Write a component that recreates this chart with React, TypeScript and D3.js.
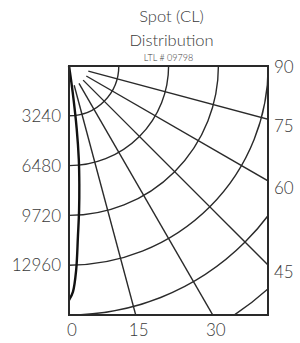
import { scaleLinear, line, curveCatmullRom, arc } from "d3";

// polar candela grid (quarter plane)
const ringValues = [3240, 6480, 9720, 12960, 16200, 19440];
const leftLabels = [3240, 6480, 9720, 12960];
const radialAngles = [15, 30, 45, 60, 75];
const rightLabels = [90, 75, 60, 45];
const bottomLabels = [0, 15, 30];

// candela curve, angle from nadir (deg) vs cd
const curveAngles = [0, 1, 2, 3, 4, 5, 6, 7, 8, 9, 10];
const curveCandela = [15240, 14700, 13300, 11100, 9400, 7700, 6100, 4100, 1700, 300, 0];

const width = 300;
const height = 343;
const margin = { top: 66, left: 69, right: 32, bottom: 28 };
const innerWidth = width - margin.left - margin.right;
const innerHeight = height - margin.top - margin.bottom;
const font = "'Lato Light', 'Lato', sans-serif";

export default function App() {
  const rScale = scaleLinear().domain([0, 16200]).range([0, innerHeight]);
  const rad = (d: number) => (d * Math.PI) / 180;
  const px = (a: number, v: number) => rScale(v) * Math.sin(rad(a));
  const py = (a: number, v: number) => rScale(v) * Math.cos(rad(a));

  const curvePts = curveAngles.map((a, i) => [px(a, curveCandela[i]), py(a, curveCandela[i])] as [number, number]);
  const curvePath = line().curve(curveCatmullRom)(curvePts) || "";

  const ringArc = arc<number>()
    .innerRadius((d) => rScale(d))
    .outerRadius((d) => rScale(d))
    .startAngle(Math.PI / 2)
    .endAngle(Math.PI);

  const stroke = "#2a2a2a";

  return (
    <svg width={width} height={height} style={{ position: "absolute", left: 0, top: 0, background: "#fff" }}>
      <defs>
        <clipPath id="plotClip">
          <rect x={0} y={0} width={innerWidth} height={innerHeight} />
        </clipPath>
      </defs>
      <g fontFamily={font} fontWeight={300} fill="#3a3a3a">
        <text x={margin.left + innerWidth / 2 + 3} y={22} textAnchor="middle" fontSize={16.5}>
          Spot (CL)
        </text>
        <text x={margin.left + innerWidth / 2 + 3} y={46} textAnchor="middle" fontSize={16.5}>
          Distribution
        </text>
        <text x={margin.left + innerWidth / 2} y={61} textAnchor="middle" fontSize={9}>
          LTL # 09798
        </text>
      </g>
      <g transform={`translate(${margin.left},${margin.top})`}>
        <g clipPath="url(#plotClip)" fill="none" stroke={stroke} strokeWidth={1.4}>
          {ringValues.map((v) => (
            <path key={v} d={ringArc(v) || ""} />
          ))}
          {radialAngles.map((a) => (
            <line key={a} x1={px(a, 1300)} y1={py(a, 1300)} x2={px(a, 30000)} y2={py(a, 30000)} />
          ))}
        </g>
        <path d={curvePath} fill="none" stroke="#111" strokeWidth={2.4} />
        <rect x={0} y={0} width={innerWidth} height={innerHeight} fill="none" stroke={stroke} strokeWidth={2} />
        <g fontFamily={font} fontWeight={300} fontSize={17} fill="#3a3a3a">
          {leftLabels.map((v) => (
            <text key={v} x={-8} y={rScale(v)} dy="0.36em" textAnchor="end">
              {v}
            </text>
          ))}
          {rightLabels.map((a) => (
            <text
              key={a}
              x={innerWidth + 6}
              y={a === 90 ? 1 : innerWidth / Math.tan(rad(a)) + 7}
              dy="0.36em"
              textAnchor="start"
            >
              {a}
            </text>
          ))}
          {bottomLabels.map((a) => (
            <text key={a} x={innerHeight * Math.tan(rad(a)) + 3} y={innerHeight + 21} textAnchor="middle">
              {a}
            </text>
          ))}
        </g>
      </g>
    </svg>
  );
}
